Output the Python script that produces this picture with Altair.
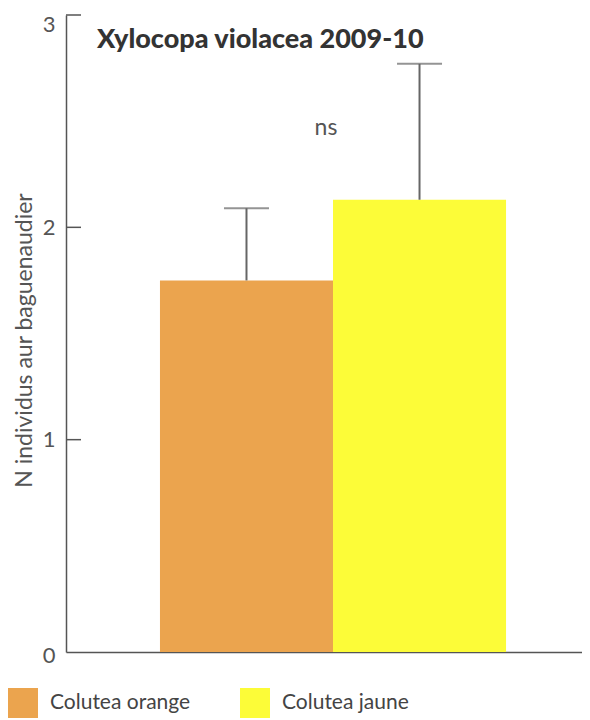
import altair as alt
import pandas as pd

categories = ["Colutea orange", "Colutea jaune"]
means = [1.75, 2.13]
upper = [2.09, 2.77]
colors = ["#EBA44E", "#FCFC38"]
y_ticks = [0, 1, 2, 3]
inner_ticks = [1, 2, 3]
title_text = "Xylocopa violacea 2009-10"
y_title = "N individus aur baguenaudier"
sig_label = "ns"
sig_y = 2.47

df = pd.DataFrame({"cat": categories, "mean": means, "upper": upper})
tick_df = pd.DataFrame({"v": inner_ticks})
title_df = pd.DataFrame({"t": [title_text]})
sig_df = pd.DataFrame({"t": [sig_label], "y": [sig_y]})

FONT = "Lato"
AX = "#555555"

xscale = alt.Scale(domain=categories, paddingInner=0, paddingOuter=0.491, align=0.553)
yscale = alt.Scale(domain=[0, 3], nice=False, zero=True)

xaxis = alt.Axis(labels=False, ticks=False, title=None, domain=True,
                 domainColor=AX, domainWidth=1.5, grid=False)
yaxis = alt.Axis(values=y_ticks, ticks=False, tickSize=0, labelPadding=11,
                 labelFontSize=22, labelColor=AX, labelFont=FONT,
                 labelOffset=alt.ExprRef(expr="datum.value == 3 ? 9 : (datum.value == 0 ? 3 : 0)"),
                 domainColor=AX, domainWidth=1.5, grid=False,
                 title=y_title, titleFontSize=23, titleFont=FONT,
                 titleFontWeight="normal", titleColor=AX,
                 titleX=-42, titleY=325, titleAngle=270,
                 titleAlign="center", titleBaseline="middle")


def X():
    return alt.X("cat:N", scale=xscale, sort=categories, axis=xaxis)


def Y(field):
    return alt.Y(field, scale=yscale, axis=yaxis, title=y_title)


bars = alt.Chart(df).mark_bar().encode(
    x=X(),
    y=Y("mean:Q"),
    color=alt.Color("cat:N", scale=alt.Scale(domain=categories, range=colors),
                    legend=alt.Legend(title=None, orient="none", legendX=-58, legendY=673,
                                      direction="horizontal", symbolType="square",
                                      symbolSize=900, symbolStrokeWidth=0, symbolOpacity=1,
                                      labelFontSize=21, labelFont=FONT, labelColor="#444444",
                                      labelOffset=12, columnPadding=49, padding=0)),
)

err = alt.Chart(df).mark_rule(color="#666666", strokeWidth=2).encode(
    x=X(),
    y=Y("mean:Q"),
    y2="upper:Q",
)

caps = alt.Chart(df).mark_tick(orient="horizontal", size=45, thickness=2, color="#666666").encode(
    x=X(),
    y=Y("upper:Q"),
)

inticks = alt.Chart(tick_df).mark_rule(color=AX, strokeWidth=1.5).encode(
    y=Y("v:Q"),
    x=alt.value(0),
    x2=alt.value(15),
)

title = alt.Chart(title_df).mark_text(align="left", baseline="alphabetic", font=FONT,
                                      fontSize=27, fontWeight=900, color="#333333").encode(
    text="t:N", x=alt.value(31), y=alt.value(33))

sig = alt.Chart(sig_df).mark_text(align="center", baseline="middle", font=FONT,
                                  fontSize=23, color=AX).encode(
    text="t:N", x=alt.value(260), y=Y("y:Q"))

chart = alt.layer(bars, err, caps, inticks, title, sig).properties(
    width=516, height=637,
    autosize=alt.AutoSizeParams(type="none"),
    padding={"left": 58, "top": 7, "right": 0, "bottom": 67},
).configure_view(stroke=None)

chart.save("out.html", embed_options={"renderer": "svg", "actions": False})
